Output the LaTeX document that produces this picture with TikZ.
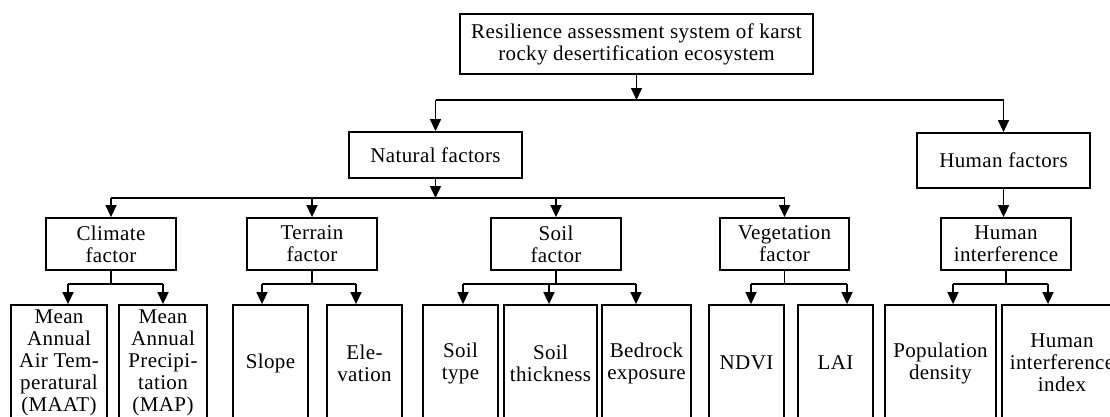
\documentclass[tikz,border=0pt]{standalone}
\usepackage{fontspec}
\setmainfont{Liberation Serif}[LetterSpace=1.8]
\usetikzlibrary{arrows.meta}
\begin{document}
\begin{tikzpicture}[x=1pt,y=-1pt,
  box/.style={draw,line width=1.8pt,inner sep=0pt,align=center,
    font=\fontsize{21pt}{22pt}\selectfont},
  arr/.style={line width=1.5pt,-{Triangle[length=12pt,width=11pt]}},
  ln/.style={line width=1.5pt}]
\useasboundingbox (0,0) rectangle (1110,416);
\clip (0,0) rectangle (1110,416);
% level 0
\node[box,minimum width=353pt,minimum height=60pt] (top) at (636.5,44)
  {Resilience assessment system of karst\\rocky desertification ecosystem};
% level 1
\node[box,minimum width=173pt,minimum height=46pt] (nat) at (435.5,155) {Natural factors};
\node[box,minimum width=173pt,minimum height=55pt] (hum) at (1003.5,160.5) {Human factors};
% level 2
\node[box,minimum width=130pt,minimum height=52pt] (climate) at (111,244) {Climate\\factor};
\node[box,minimum width=130pt,minimum height=52pt] (terrain) at (312,244) {Terrain\\factor};
\node[box,minimum width=130pt,minimum height=52pt] (soil) at (556,244) {Soil\\factor};
\node[box,minimum width=129pt,minimum height=52pt] (veg) at (784.5,244) {Vegetation\\factor};
\node[box,minimum width=130pt,minimum height=52pt] (hint) at (1006,244) {Human\\interference};
% leaves
\node[box,minimum width=96pt,minimum height=116pt] (maat) at (59,363)
  {Mean\\Annual\\Air Tem-\\peratural\\(MAAT)};
\node[box,minimum width=88pt,minimum height=116pt] (map) at (163,363)
  {Mean\\Annual\\Precipi-\\tation\\(MAP)};
\node[box,minimum width=75pt,minimum height=116pt] (slope) at (270.5,363) {Slope};
\node[box,minimum width=75pt,minimum height=116pt] (elev) at (364.5,363) {Ele-\\vation};
\node[box,minimum width=75pt,minimum height=116pt] (stype) at (460.5,363) {Soil\\type};
\node[box,minimum width=93pt,minimum height=116pt] (sthick) at (550.5,363) {Soil\\thickness};
\node[box,minimum width=89pt,minimum height=116pt] (bedrock) at (646.5,363) {Bedrock\\exposure};
\node[box,minimum width=75pt,minimum height=116pt] (ndvi) at (746.5,363) {NDVI};
\node[box,minimum width=75pt,minimum height=116pt] (lai) at (835.5,363) {LAI};
\node[box,minimum width=111pt,minimum height=116pt] (popd) at (940.5,363) {Population\\density};
\node[box,minimum width=120pt,minimum height=116pt] (hii) at (1062,363) {Human\\interference\\index};
% connector levels
\coordinate (ty) at (0,100);
\coordinate (ly) at (0,198);
\coordinate (by) at (0,284);
% top
\draw[arr] (top.south) -- (top.south |- ty);
\draw[ln] (nat.north |- ty) -- (hum.north |- ty);
\draw[arr] (nat.north |- ty) -- (nat.north);
\draw[arr] (hum.north |- ty) -- (hum.north);
% natural
\draw[arr] (nat.south) -- (nat.south |- ly);
\draw[ln] (climate.north |- ly) -- (veg.north |- ly);
\draw[arr] (climate.north |- ly) -- (climate.north);
\draw[arr] (terrain.north |- ly) -- (terrain.north);
\draw[arr] (soil.north |- ly) -- (soil.north);
\draw[arr] (veg.north |- ly) -- (veg.north);
% human
\draw[arr] (hum.south) -- (hum.south |- hint.north);
% climate leaves
\coordinate (cbl) at ([xshift=9pt]maat.north |- by);
\coordinate (cbr) at (map.north |- by);
\draw[ln] (climate.south) -- (climate.south |- by);
\draw[ln] (cbl) -- (cbr);
\draw[arr] (cbl) -- ([xshift=9pt]maat.north);
\draw[arr] (cbr) -- (map.north);
% terrain leaves
\coordinate (tbl) at ([xshift=-8.5pt]slope.north |- by);
\coordinate (tbr) at ([xshift=-8.5pt]elev.north |- by);
\draw[ln] (terrain.south) -- (terrain.south |- by);
\draw[ln] (tbl) -- (tbr);
\draw[arr] (tbl) -- ([xshift=-8.5pt]slope.north);
\draw[arr] (tbr) -- ([xshift=-8.5pt]elev.north);
% soil leaves
\coordinate (sbl) at ([xshift=2.5pt]stype.north |- by);
\coordinate (sbm) at ([xshift=-1.5pt]sthick.north |- by);
\coordinate (sbr) at ([xshift=-10.5pt]bedrock.north |- by);
\draw[ln] (soil.south) -- (soil.south |- by);
\draw[ln] (sbl) -- (sbr);
\draw[arr] (sbl) -- ([xshift=2.5pt]stype.north);
\draw[arr] (sbm) -- ([xshift=-1.5pt]sthick.north);
\draw[arr] (sbr) -- ([xshift=-10.5pt]bedrock.north);
% vegetation leaves
\coordinate (vbl) at ([xshift=4.5pt]ndvi.north |- by);
\coordinate (vbr) at ([xshift=11.5pt]lai.north |- by);
\draw[ln] (veg.south) -- (veg.south |- by);
\draw[ln] (vbl) -- (vbr);
\draw[arr] (vbl) -- ([xshift=4.5pt]ndvi.north);
\draw[arr] (vbr) -- ([xshift=11.5pt]lai.north);
% human leaves
\coordinate (hbl) at ([xshift=12.5pt]popd.north |- by);
\coordinate (hbr) at ([xshift=-14pt]hii.north |- by);
\draw[ln] (hint.south) -- (hint.south |- by);
\draw[ln] (hbl) -- (hbr);
\draw[arr] (hbl) -- ([xshift=12.5pt]popd.north);
\draw[arr] (hbr) -- ([xshift=-14pt]hii.north);
\end{tikzpicture}
\end{document}
